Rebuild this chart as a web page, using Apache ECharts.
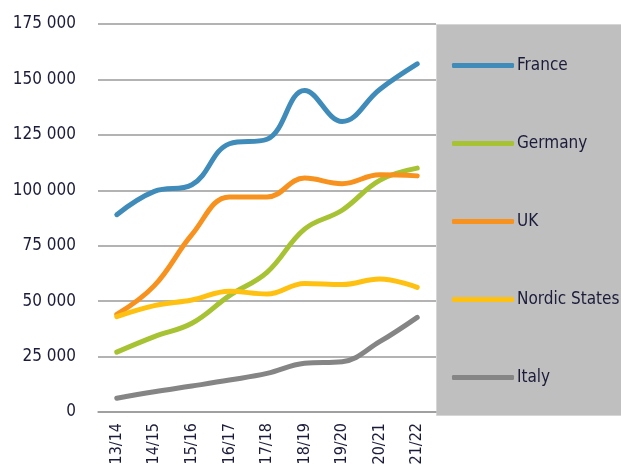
<!DOCTYPE html>
<html>
<head>
<meta charset="utf-8">
<script src="https://cdn.jsdelivr.net/npm/echarts@6/dist/echarts.min.js"></script>
<style>
  html, body { margin: 0; padding: 0; background: #fff; }
  #chart { width: 621px; height: 468px; }
</style>
</head>
<body>
<div id="chart"></div>
<script>
// academic years on the x axis
const seasons = ['13/14', '14/15', '15/16', '16/17', '17/18', '18/19', '19/20', '20/21', '21/22'];

// values
const france = [89000, 99500, 102500, 121000, 123000, 145000, 131000, 145500, 157000];
const germany = [27000, 34000, 40000, 52500, 63000, 82500, 91000, 104500, 110000];
const uk = [44000, 57000, 80000, 97000, 97000, 105500, 103000, 107000, 106500];
const nordic = [43000, 48000, 50500, 54500, 53200, 58000, 57500, 60000, 56200];
const italy = [6200, 9100, 11700, 14400, 17400, 22000, 22700, 31700, 42700];

const seriesNames = ['France', 'Germany', 'UK', 'Nordic States', 'Italy'];
const seriesData = [france, germany, uk, nordic, italy];
const seriesColors = ['#3f8bba', '#a7c232', '#f7921e', '#fec111', '#858585'];

const textColor = '#1b1c3a';
const fontStack = "'DejaVu Sans Condensed', 'DejaVu Sans', sans-serif";

const chart = echarts.init(document.getElementById('chart'), null, { renderer: 'canvas' });

const option = {
  animation: false,
  backgroundColor: '#fff',
  graphic: [
    {
      type: 'rect',
      left: 436,
      top: 24,
      shape: { width: 185, height: 391 },
      style: { fill: '#bfbfbf', stroke: '#d6d6d6', lineWidth: 1 },
      z: -1
    }
  ],
  grid: {
    left: 98,
    right: 185,
    top: 24,
    bottom: 56
  },
  legend: {
    orient: 'vertical',
    left: 452,
    top: 57,
    padding: 0,
    icon: 'roundRect',
    itemWidth: 62,
    itemHeight: 5,
    itemGap: 61,
    textStyle: {
      color: textColor,
      fontFamily: fontStack,
      fontSize: 17,
      padding: [0, 0, 0, -2]
    },
    data: seriesNames
  },
  xAxis: {
    type: 'category',
    data: seasons,
    boundaryGap: true,
    axisLine: { show: true, lineStyle: { color: '#9a9a9a', width: 1.5 } },
    axisTick: { show: false },
    axisLabel: {
      rotate: 90,
      margin: 11,
      color: textColor,
      fontFamily: fontStack,
      fontSize: 16
    }
  },
  yAxis: {
    type: 'value',
    min: 0,
    max: 175000,
    interval: 25000,
    axisLine: { show: false },
    axisTick: { show: false },
    splitLine: { lineStyle: { color: '#9a9a9a', width: 1.5 } },
    axisLabel: {
      margin: 22,
      color: textColor,
      fontFamily: fontStack,
      fontSize: 17,
      formatter: (v) => String(v).replace(/\B(?=(\d{3})+(?!\d))/g, ' ')
    }
  },
  series: seriesNames.map((name, i) => ({
    name: name,
    type: 'line',
    data: seriesData[i],
    smooth: 0.4,
    symbol: 'none',
    color: seriesColors[i],
    lineStyle: { width: 5, color: seriesColors[i], cap: 'round' }
  }))
};

chart.setOption(option);
</script>
</body>
</html>
